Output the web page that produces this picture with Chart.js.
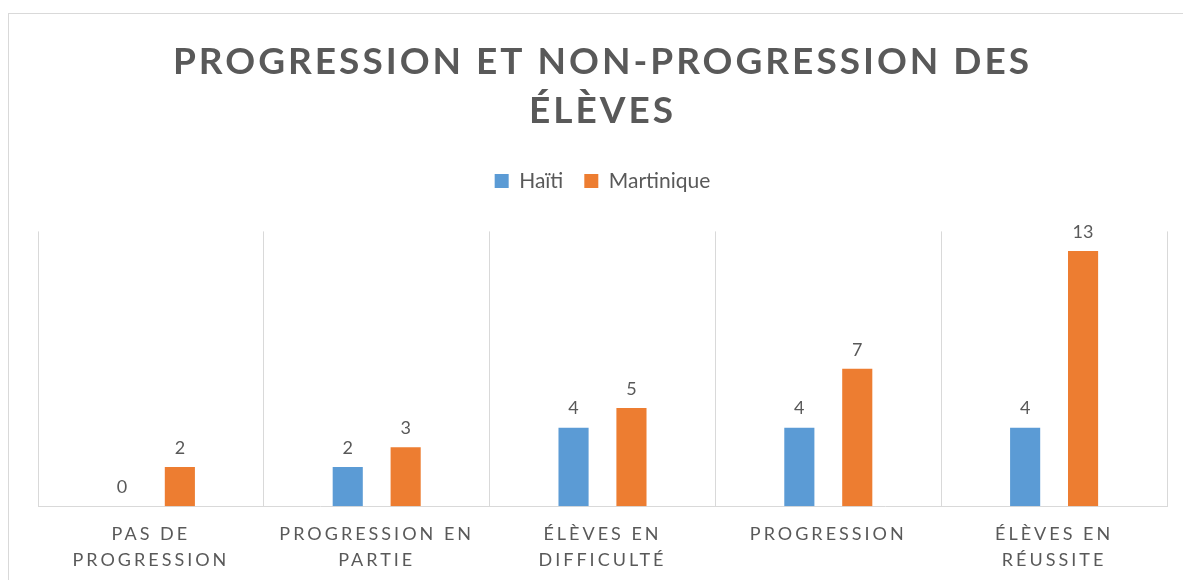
<!DOCTYPE html>
<html>
<head>
<meta charset="utf-8">
<script src="https://cdn.jsdelivr.net/npm/chart.js@4/dist/chart.umd.min.js"></script>
<style>
    html, body { margin: 0; padding: 0; background: #fff; overflow: hidden; }
    #frame { position: absolute; left: 8px; top: 13px; width: 1200px; height: 600px; border: 1px solid #d9d9d9; box-sizing: border-box; }
    #wrap { position: absolute; left: 0; top: 0; width: 1183px; height: 580px; }
</style>
</head>
<body>
<div id="frame"></div>
<div id="wrap"><canvas id="chart"></canvas></div>
<script>
// Données
const categories = [
    ['PAS DE', 'PROGRESSION'],
    ['PROGRESSION EN', 'PARTIE'],
    ['ÉLÈVES EN', 'DIFFICULTÉ'],
    ['PROGRESSION'],
    ['ÉLÈVES EN', 'RÉUSSITE']
];
const seriesNames = ['Haïti', 'Martinique'];
const haiti = [0, 2, 4, 4, 4];
const martinique = [2, 3, 5, 7, 13];
const titleLines = ['PROGRESSION ET NON-PROGRESSION DES', 'ÉLÈVES'];
const yMax = 14;

const textColor = '#595959';
const gridColor = '#d9d9d9';

// Espacement des lettres pour le titre et les étiquettes de l'axe (pas pour la légende)
const letterSpacing = {
    id: 'letterSpacing',
    beforeDraw(chart) {
        chart.ctx.letterSpacing = '3px';
        const legend = chart.legend;
        if (legend && !legend._sansEspacement) {
            const draw = legend.draw;
            legend.draw = function () {
                const c = this.ctx;
                const old = c.letterSpacing;
                c.letterSpacing = '0px';
                draw.apply(this, arguments);
                c.letterSpacing = old;
            };
            legend._sansEspacement = true;
        }
    },
    beforeDatasetsDraw(chart) { chart.ctx.letterSpacing = '0px'; }
};

// Espace vide entre la légende et la zone du graphique
const spacer = {
    id: 'spacer',
    beforeInit(chart) {
        Chart.layouts.addBox(chart, {
            position: 'top',
            weight: 500,
            fullSize: true,
            options: {},
            isHorizontal() { return true; },
            update(maxWidth) { this.width = maxWidth; this.height = 30; },
            draw() {}
        });
    }
};

// Valeurs au-dessus des barres
const valueLabels = {
    id: 'valueLabels',
    afterDatasetsDraw(chart) {
        const ctx = chart.ctx;
        ctx.save();
        ctx.font = '18px Lato';
        ctx.fillStyle = textColor;
        ctx.textAlign = 'center';
        ctx.textBaseline = 'middle';
        chart.data.datasets.forEach((ds, i) => {
            chart.getDatasetMeta(i).data.forEach((bar, j) => {
                ctx.fillText(ds.data[j], bar.x, bar.y - 19);
            });
        });
        ctx.restore();
    }
};

const ctx = document.getElementById('chart').getContext('2d');
new Chart(ctx, {
    type: 'bar',
    data: {
        labels: categories,
        datasets: [
            { label: seriesNames[0], data: haiti, backgroundColor: '#5b9bd5' },
            { label: seriesNames[1], data: martinique, backgroundColor: '#ed7d31' }
        ]
    },
    options: {
        responsive: true,
        maintainAspectRatio: false,
        animation: false,
        categoryPercentage: 0.513,
        barPercentage: 0.52,
        layout: { padding: { left: 38, right: 16, top: 0, bottom: -8 } },
        plugins: {
            title: {
                display: true,
                text: titleLines,
                color: textColor,
                font: { family: 'Lato', size: 37, weight: 'bold', lineHeight: 1.33 },
                padding: { top: 37, bottom: 14 }
            },
            legend: {
                position: 'top',
                labels: {
                    color: textColor,
                    font: { family: 'Lato', size: 21 },
                    boxWidth: 14,
                    boxHeight: 14,
                    padding: 21
                }
            },
            tooltip: { enabled: false }
        },
        scales: {
            x: {
                grid: { color: gridColor, drawTicks: false },
                border: { color: gridColor },
                ticks: {
                    color: textColor,
                    font: { family: 'Lato', size: 18, lineHeight: 1.44 },
                    padding: 15,
                    maxRotation: 0,
                    autoSkip: false
                }
            },
            y: { display: false, min: 0, max: yMax }
        }
    },
    plugins: [letterSpacing, spacer, valueLabels]
});
</script>
</body>
</html>
